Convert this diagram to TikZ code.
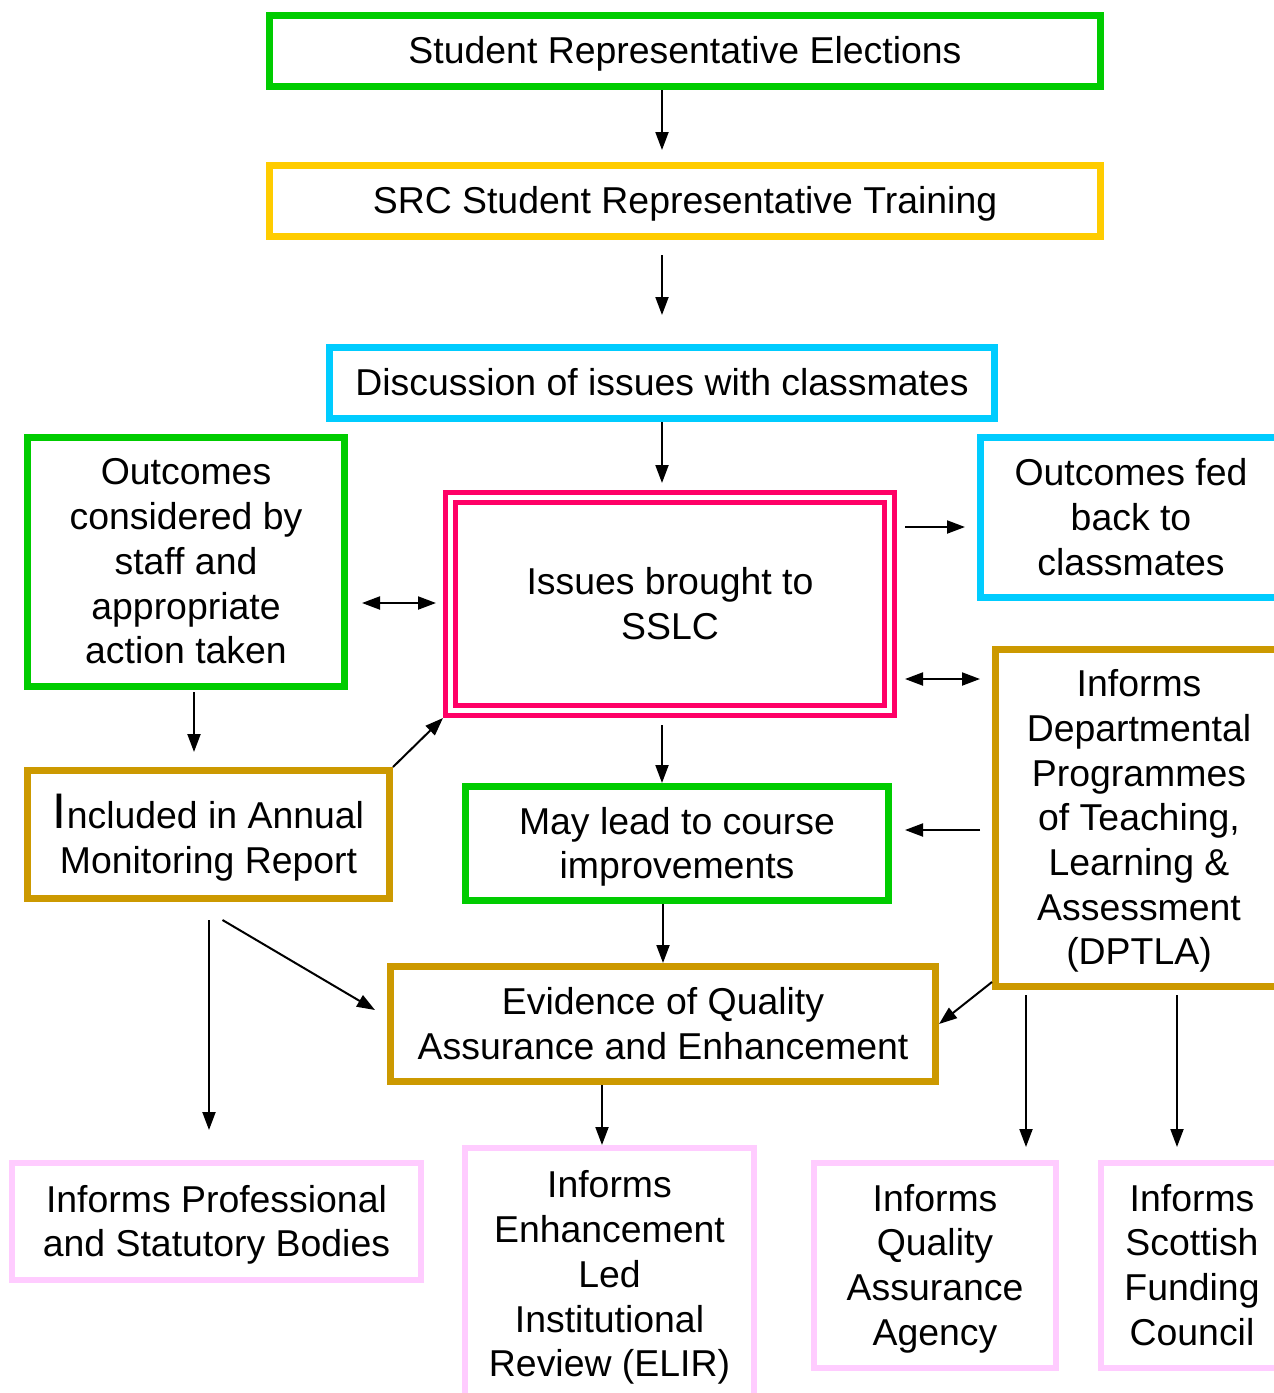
\documentclass[tikz,border=0pt]{standalone}
\usepackage{fontspec}
\setmainfont{Liberation Sans}
\usetikzlibrary{arrows.meta}

\definecolor{repgreen}{HTML}{00CC00}
\definecolor{repyellow}{HTML}{FFCC00}
\definecolor{repcyan}{HTML}{00CCFF}
\definecolor{reppink}{HTML}{FF0066}
\definecolor{repgold}{HTML}{CC9900}
\definecolor{replilac}{HTML}{FFCCFF}

\begin{document}
\begin{tikzpicture}[x=1pt,y=-1pt,>={Triangle[length=18pt,width=13pt]},line width=2pt,
  box/.style={draw,line width=7pt,inner sep=0pt,align=center,text depth=1.4pt,font={\fontsize{37.4}{44.7}\selectfont}},
  lilac/.style={box,draw=replilac,line width=6pt},
  sslcbox/.style={box,draw=reppink,line width=5pt,double=white,double distance=5pt,outer sep=7.5pt}]

\useasboundingbox (0,0) rectangle (1274,1393);

\node[box,draw=repgreen,minimum width=831pt,minimum height=71pt]   (ele) at (685,51)    {Student Representative Elections};
\node[box,draw=repyellow,minimum width=831pt,minimum height=71pt]  (trn) at (685,201)   {SRC Student Representative Training};
\node[box,draw=repcyan,minimum width=665pt,minimum height=71pt]    (dis) at (662,383)   {Discussion of issues with classmates};
\node[sslcbox,minimum width=439pt,minimum height=213pt]            (sslc) at (670,604)  {Issues brought to\\SSLC};
\node[box,draw=repgreen,minimum width=317pt,minimum height=249pt]  (ocs) at (186,562)   {Outcomes\\considered by\\staff and\\appropriate\\action taken};
\node[box,draw=repcyan,minimum width=301pt,minimum height=160pt]   (fed) at (1131,517.5) {Outcomes fed\\back to\\classmates};
\node[box,draw=repgold,minimum width=287pt,minimum height=337pt]   (dpt) at (1139,818)  {Informs\\Departmental\\Programmes\\of Teaching,\\Learning \&\\Assessment\\(DPTLA)};
\node[box,draw=repgold,minimum width=362pt,minimum height=128pt]   (inc) at (208.5,834.5) {{\fontsize{50}{44.7}\selectfont I}ncluded in Annual\\Monitoring Report};
\node[box,draw=repgreen,minimum width=423pt,minimum height=114pt]  (may) at (677,843.5) {May lead to course\\improvements};
\node[box,draw=repgold,minimum width=545pt,minimum height=115pt]   (evi) at (663,1024)  {Evidence of Quality\\Assurance and Enhancement};
\node[lilac,minimum width=409pt,minimum height=117pt]  (psb) at (216.5,1221.5) {Informs Professional\\and Statutory Bodies};
\node[lilac,minimum width=289pt,minimum height=253pt]  (elir) at (609.5,1274.5) {Informs\\Enhancement\\Led\\Institutional\\Review (ELIR)};
\node[lilac,minimum width=242pt,minimum height=205pt]  (qaa) at (935,1265.5) {Informs\\Quality\\Assurance\\Agency};
\node[lilac,minimum width=182pt,minimum height=205pt]  (sfc) at (1192,1265.5) {Informs\\Scottish\\Funding\\Council};

\path[->] (ele.south -| 662,0)  edge[shorten >=12pt]                  (trn.north -| 662,0)
          (trn.south -| dis.north) edge[shorten <=15pt,shorten >=29pt] (dis.north)
          (dis.south)           edge[shorten >=7pt]                   (dis.south |- sslc.north)
          (ocs.east |- 0,603)   edge[<->,shorten <=14pt,shorten >=7pt] (sslc.west |- 0,603)
          (sslc.east |- 0,527)  edge[shorten <=8pt,shorten >=12pt]    (fed.west |- 0,527)
          (sslc.east |- 0,679)  edge[<->,shorten <=8pt,shorten >=12pt] (dpt.west |- 0,679)
          (dpt.west |- 0,830)   edge[shorten <=12pt,shorten >=13pt]   (may.east |- 0,830)
          (ocs.south -| 194,0)  edge[shorten <=2pt,shorten >=15pt]    (inc.north -| 194,0)
          (inc.north east)      edge                                  (sslc.south west)
          (sslc.south -| 662,0) edge[shorten <=7pt]                   (may.north -| 662,0)
          (may.south -| evi.north) edge                               (evi.north)
          ([xshift=14pt,yshift=-18pt]inc.south) edge                  ([xshift=-12pt,yshift=14pt]evi.west)
          (inc.south -| 209,0)  edge[shorten <=18pt,shorten >=30pt]   (psb.north -| 209,0)
          ([yshift=8pt]dpt.south west) edge                           (evi.east)
          (evi.south -| 602,0)  edge                                  (elir.north -| 602,0)
          (dpt.south -| 1026,0) edge[shorten <=5pt,shorten >=13pt]    (qaa.north -| 1026,0)
          (dpt.south -| 1177,0) edge[shorten <=5pt,shorten >=13pt]    (sfc.north -| 1177,0);

\end{tikzpicture}
\end{document}
